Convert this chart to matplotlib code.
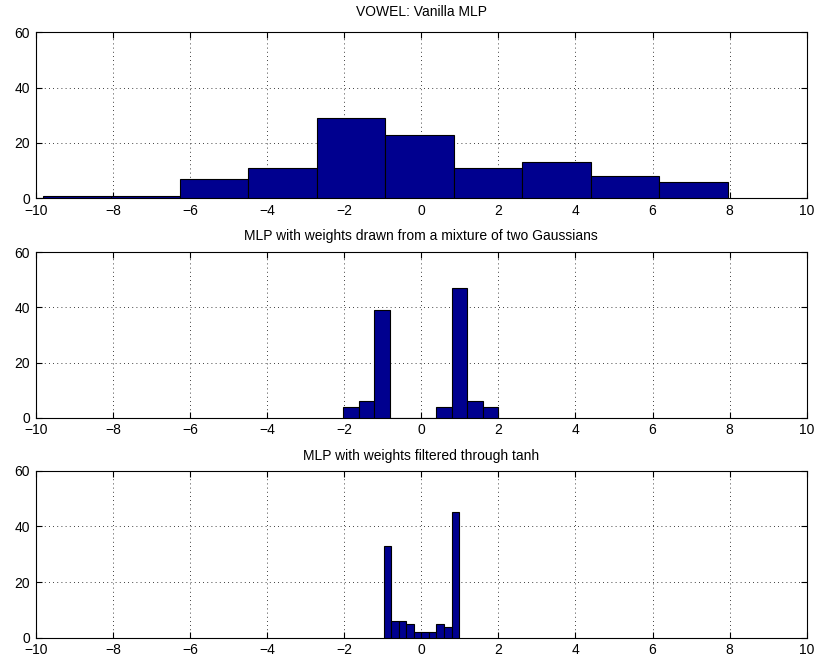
import matplotlib
matplotlib.use("Agg")
import matplotlib.pyplot as plt
import numpy as np

plt.rcParams['font.family'] = ['Liberation Sans', 'DejaVu Sans']
plt.rcParams['font.size'] = 10

# histogram bin edges and counts
vanilla_edges = np.linspace(-9.81, 7.95, 11)
vanilla_counts = [1, 1, 7, 11, 29, 23, 11, 13, 8, 6]

mixture_edges = np.linspace(-2.017, 2.0, 11)
mixture_counts = [4, 6, 39, 0, 0, 0, 4, 47, 6, 4]

tanh_edges = np.linspace(-0.975, 0.983, 11)
tanh_counts = [33, 6, 6, 5, 2, 2, 2, 5, 4, 45]

titles = ["VOWEL: Vanilla MLP",
          "MLP with weights drawn from a mixture of two Gaussians",
          "MLP with weights filtered through tanh"]
title_pads = [12.0, 8.5, 8.0]

panels = [(vanilla_edges, vanilla_counts),
          (mixture_edges, mixture_counts),
          (tanh_edges, tanh_counts)]

# axes rectangles (left, bottom, width, height) in figure fractions
rects = [(0.0437, 0.7027, 0.9437, 0.2489),
         (0.0437, 0.3738, 0.9437, 0.2480),
         (0.0437, 0.0439, 0.9437, 0.2504)]

fig = plt.figure(figsize=(8.17, 6.67), dpi=100)

for (edges, counts), title, pad, rect in zip(panels, titles, title_pads, rects):
    ax = fig.add_axes(rect)
    widths = np.diff(edges)
    ax.bar(edges[:-1], counts, width=widths, align='edge',
           color=(0, 0, 0.5625), edgecolor='black', linewidth=0.8, zorder=3)
    ax.set_xlim(-10, 10)
    ax.set_ylim(0, 60)
    ax.set_xticks(np.arange(-10, 11, 2))
    ax.set_yticks([0, 20, 40, 60])
    ax.grid(True, linestyle=(0, (1, 4)), color='black', linewidth=0.6, zorder=0)
    ax.tick_params(direction='in', top=True, right=True, length=4,
                   labelsize=10, pad=4)
    for s in ax.spines.values():
        s.set_linewidth(0.8)
    ax.set_title(title, fontsize=10, pad=pad)

fig.savefig("out.png", dpi=100)
